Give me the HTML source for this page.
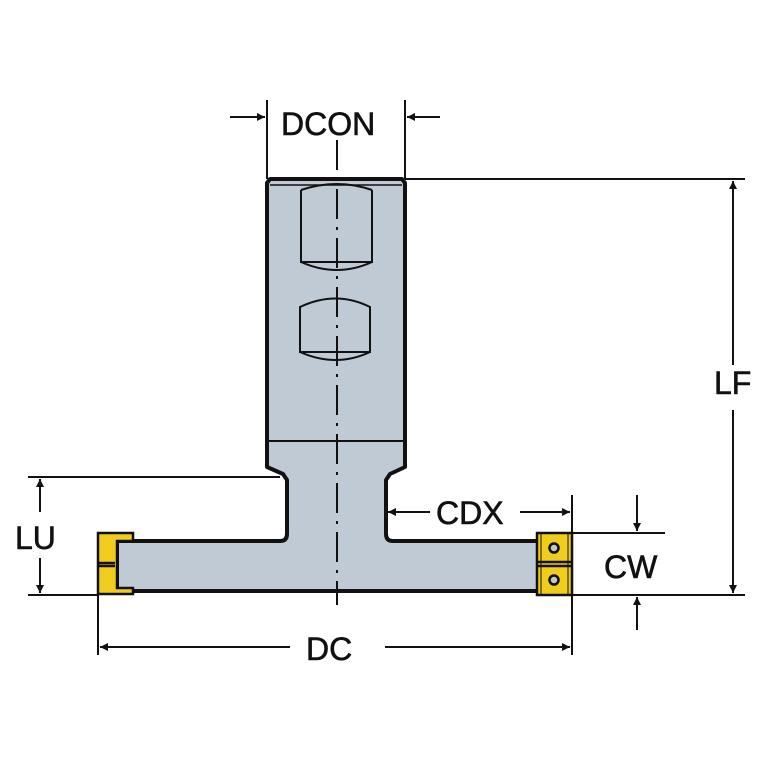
<!DOCTYPE html>
<html><head><style>html,body{margin:0;padding:0;background:#fff}svg{display:block}text{font-family:"Liberation Sans",sans-serif;font-size:32px;fill:#111;stroke:#111;stroke-width:0.6}</style></head>
<body>
<svg width="767" height="767" viewBox="0 0 767 767" xmlns="http://www.w3.org/2000/svg">
<defs><marker id="a" viewBox="0 0 10 10" refX="10" refY="5" markerWidth="14" markerHeight="8" markerUnits="userSpaceOnUse" orient="auto"><path d="M0,0L10,5L0,10z" fill="#111"/></marker></defs>
<g stroke="#111" stroke-width="2" fill="none">
<line x1="267" y1="100" x2="267" y2="179"/><line x1="405" y1="100" x2="405" y2="179"/>
<line x1="230" y1="117" x2="265" y2="117" marker-end="url(#a)"/><line x1="440" y1="117" x2="407" y2="117" marker-end="url(#a)"/>
<line x1="405" y1="179" x2="745" y2="179"/>
<line x1="733" y1="365" x2="733" y2="181" marker-end="url(#a)"/><line x1="733" y1="410" x2="733" y2="593" marker-end="url(#a)"/>
<line x1="572" y1="595" x2="745" y2="595"/>
<line x1="572" y1="533" x2="665" y2="533"/>
<line x1="572" y1="495" x2="572" y2="655"/>
<line x1="98" y1="595" x2="98" y2="655"/>
<line x1="290" y1="647" x2="100" y2="647" marker-end="url(#a)"/><line x1="385" y1="647" x2="570" y2="647" marker-end="url(#a)"/>
<line x1="430" y1="512" x2="388" y2="512" marker-end="url(#a)"/><line x1="520" y1="512" x2="570" y2="512" marker-end="url(#a)"/>
<line x1="637" y1="495" x2="637" y2="531" marker-end="url(#a)"/><line x1="637" y1="630" x2="637" y2="597" marker-end="url(#a)"/>
<line x1="28" y1="477" x2="280" y2="477"/><line x1="28" y1="595" x2="98" y2="595"/>
<line x1="40" y1="512" x2="40" y2="479" marker-end="url(#a)"/><line x1="40" y1="558" x2="40" y2="593" marker-end="url(#a)"/>
</g>
<path d="M270,179 L402,179 L405,183 L405,467 L390,474 L386,480 L386,534 Q386,541 393,541 L538,541 L538,591 L117,591 L117,541 L280,541 Q287,541 287,534 L287,480 L283,474 L267,467 L267,183 Z" fill="#bfcad4" stroke="#111" stroke-width="4" stroke-linejoin="round"/>
<g stroke="#111" stroke-width="2" fill="none">
<line x1="267" y1="441" x2="405" y2="441"/>
<line x1="270" y1="185" x2="402" y2="185" stroke-width="1.5"/>
<path d="M301,190 Q337,178 372,190"/>
<path d="M301,190 L301,262 L372,262 L372,190"/><path d="M301,262 Q337,278 372,262"/>
<path d="M300,307 Q336,290 370,307 L370,352 L300,352 Z"/><path d="M300,352 Q336,368 370,352"/>
</g>
<path d="M337,140 L337,605" stroke="#111" stroke-width="2" stroke-dasharray="30,8,3,8" fill="none"/>
<g stroke="#111" stroke-width="2.5" fill="#f0cc1c">
<path d="M98,533 L133,533 L133,541 L117,541 L117,588 L133,588 L133,594 L98,594 Z"/>
<line x1="98" y1="563" x2="115" y2="563"/><line x1="98" y1="566" x2="115" y2="566"/>
<rect x="537" y="533" width="35" height="62"/>
<line x1="537" y1="562" x2="572" y2="562"/><line x1="537" y1="566" x2="572" y2="566"/>
<line x1="541" y1="533" x2="541" y2="595" stroke-width="1"/><line x1="568" y1="533" x2="568" y2="595" stroke-width="1"/>
<circle cx="554" cy="548" r="4.5" fill="#bfcad4"/><circle cx="554" cy="580" r="4.5" fill="#bfcad4"/>
</g>
<text x="281" y="135">DCON</text>
<text x="714" y="394">LF</text>
<text x="436" y="524">CDX</text>
<text x="604" y="578">CW</text>
<text x="15" y="549">LU</text>
<text x="306" y="660">DC</text>
</svg>
</body></html>
